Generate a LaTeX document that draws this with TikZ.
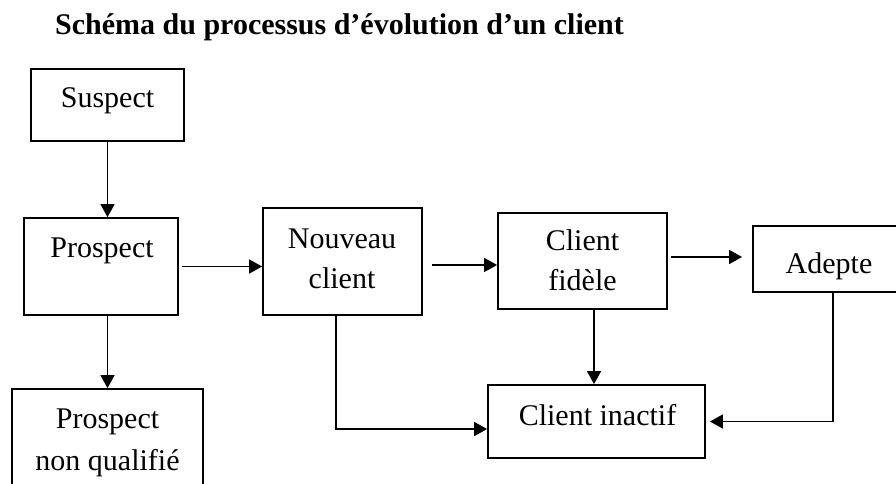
\documentclass[tikz,border=0pt]{standalone}
\usepackage{fontspec}
\setmainfont{Liberation Serif}
\usetikzlibrary{arrows.meta}
\begin{document}
\begin{tikzpicture}[x=1pt,y=-1pt,
  box/.style={draw, line width=1.8pt, inner sep=0pt},
  lbl/.style={anchor=base, inner sep=0pt, font=\fontsize{30}{40}\selectfont, align=center},
  arr/.style={line width=1.5pt, -{Triangle[length=13pt,width=14pt]}},
  ttl/.style={anchor=base west, inner sep=0pt, font=\fontsize{30}{36}\selectfont\bfseries}]
\useasboundingbox (0,0) rectangle (896,484);
\clip (0,0) rectangle (896,484);

% title
\node[ttl] (title) at (55,35) {Schéma du processus d’évolution d’un client};

% boxes
\node[box, minimum width=153pt, minimum height=72pt]  (sus) at (107.5,105) {};
\node[box, minimum width=154pt, minimum height=97pt]  (pro) at (101,266.5) {};
\node[box, minimum width=159pt, minimum height=107pt] (nou) at (342.5,261.5) {};
\node[box, minimum width=169pt, minimum height=96pt]  (fid) at (582.5,261) {};
\node[box, minimum width=154pt, minimum height=66pt]  (ade) at (830,259) {};
\node[box, minimum width=217pt, minimum height=73pt]  (ina) at (596.5,421.5) {};
\node[box, minimum width=191pt, minimum height=111pt] (pnq) at (107.5,444.5) {};

% labels
\node[lbl] (tsus) at (107.5,108) {Suspect};
\node[lbl] (tpro) at (102,257) {Prospect};
\node[lbl] (tnou1) at (342,248) {Nouveau};
\node[lbl] (tnou2) at (342,288) {client};
\node[lbl] (tfid1) at (582.5,250) {Client};
\node[lbl] (tfid2) at (582.5,290) {fidèle};
\node[lbl] (tade) at (829,273) {Adepte};
\node[lbl] (tina) at (597.5,425) {Client inactif};
\node[lbl] (tpnq1) at (107.5,428) {Prospect};
\node[lbl] (tpnq2) at (107.5,470) {non qualifié};

% connectors
\draw[arr] (sus.south) -- (sus.south |- pro.north);
\draw[arr] ([xshift=3pt]pro.east) -- (pro.east -| nou.west);
\draw[arr] ([xshift=9pt,yshift=-3.5pt]nou.east) -- ([yshift=-3.5pt]nou.east -| fid.west);
\draw[arr] ([xshift=3pt,yshift=4pt]fid.east) -- ([xshift=-10pt,yshift=4pt]fid.east -| ade.west);
\draw[arr] (pro.south -| pnq.north) -- (pnq.north);
\draw[arr] ([xshift=-6.5pt]nou.south) |- ([yshift=-7.5pt]ina.west);
\draw[arr] ([xshift=11.5pt]fid.south) -- ([xshift=11.5pt]fid.south |- ina.north);
\draw[arr] ([xshift=3pt]ade.south) |- ([xshift=4pt]ina.east);
\end{tikzpicture}
\end{document}
